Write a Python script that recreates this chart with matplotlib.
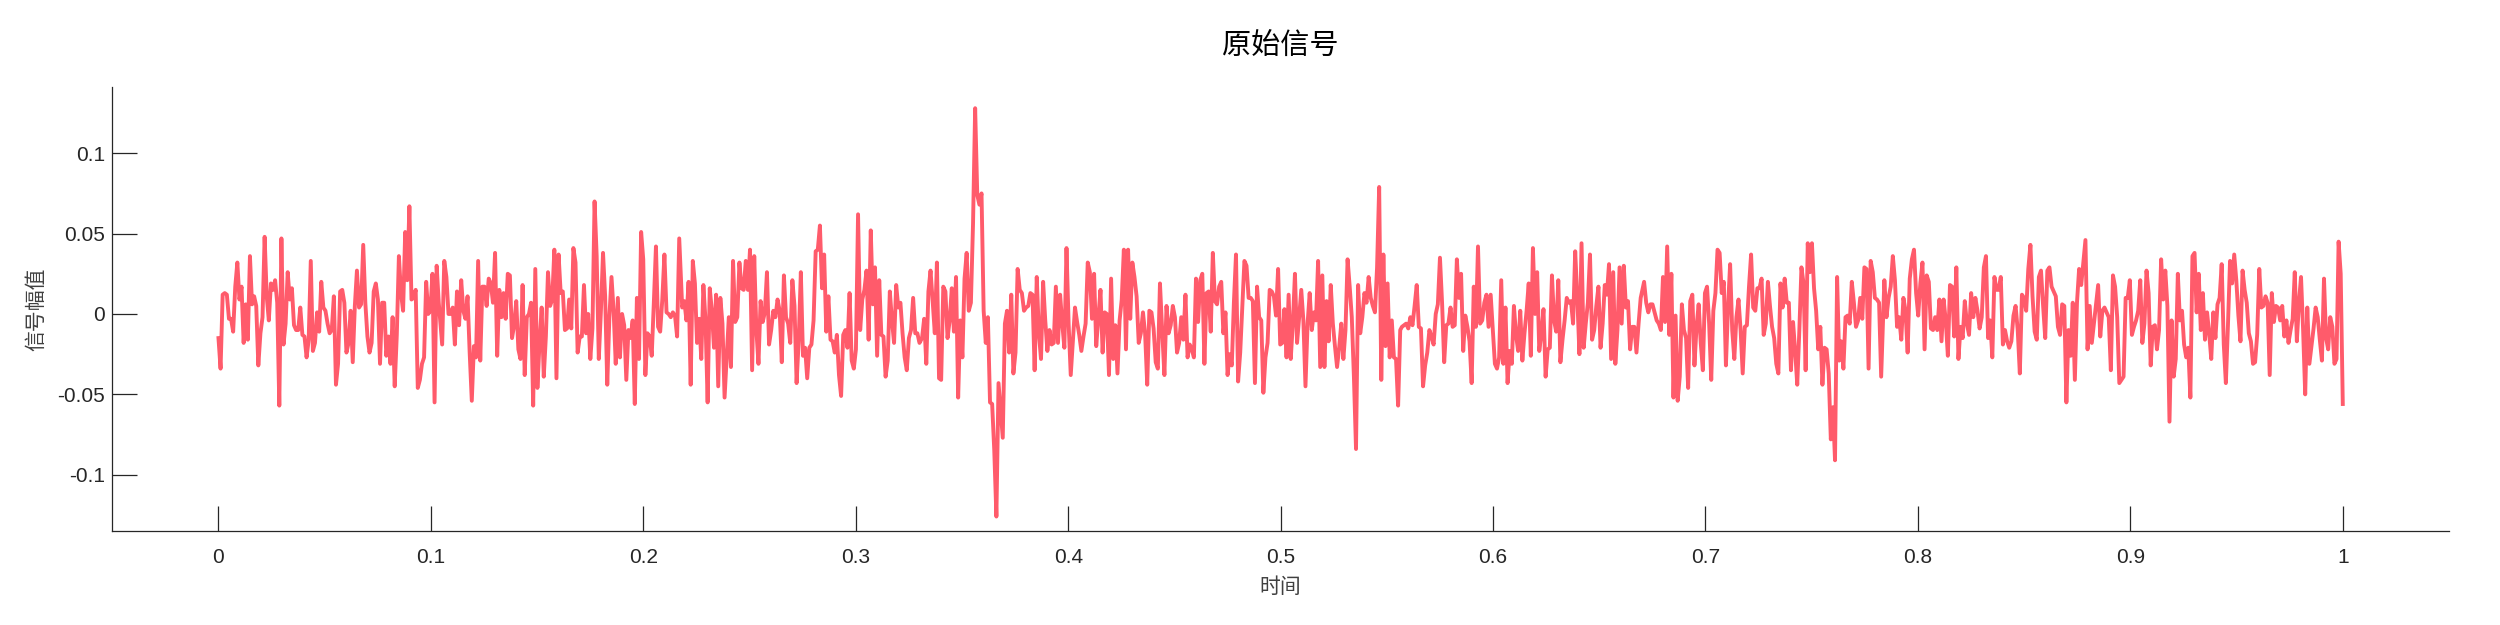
import numpy as np
import matplotlib
matplotlib.use('Agg')
import matplotlib.pyplot as plt

plt.rcParams['font.family'] = ['Liberation Sans', 'Noto Sans CJK SC', 'DejaVu Sans']
plt.rcParams['axes.unicode_minus'] = False

# signal amplitude, in units of 1e-3, split in 9 stretches
seg1 = [-15, -34, 12, 13, 12, -3, -3, -11, 17, 32, 9, 17, -18, 6, -16, 36, 6, 11, 5, -32,
        -12, -2, 48, 11, -4, 19, 15, 21, 7, -57, 47, -19, -6, 26, 9, 16, -7, -10, -10, 4,
        -13, -14, -27, -16, 33, -23, -18, 1, -11, 20, 4, 2, -6, -12, -10, 11, -44, -31, 14, 15,
        7, -24, -18, 2, -30, 5, 27, 4, 6, 43, 7, -14, -24, -18, 14, 19, 9, -31, 7, 7,
        -26, -14, -31, -2, -45, -13, 36, 13, 2, 51, 21, 67, 9, 10, 15, -46, -41, -31, -27, 20,
        0, 2, 25, -55, 30, 7]
seg2 = [-19, 33, 23, 0, 0, 4, -19, 14, -7, 21, 2, -3, 11, -24, -54, -20, -27, 33, -29, 17,
        17, 5, 22, 19, 7, 38, -26, 15, -2, 13, -3, 25, 24, -15, -7, 8, -22, -28, 18, -38,
        -2, 0, 7, -57, 28, -46, -18, 4, -39, -14, 26, 5, 9, 40, -40, 37, 13, 14, -10, -9,
        9, -9, 41, 32, -24, -14, -14, 18, -12, 0, -28, -9, 70, 36, -28, 2, 38, 11, -44, -2,
        23, 2, -31, 10, -27, 0, -7, -41, -10, -15, -4, -56, 10, -28, 51, 34, -38, -12, -14, -26,
        7, 42, -8, -11, 9, 37, 1, 0, -2, 1, -1, -14, 47]
seg3 = [4, 8, -4, 20, -44, 33, 19, -18, -3, -28, 18, -4, -55, 16, 2, -21, 12, -45, 10, -6,
        -52, -27, -2, -33, 33, -5, -2, 32, 16, 15, 33, 15, 40, -35, 36, -10, -31, 8, -5, 1,
        26, -19, -10, 2, -2, 9, 2, -30, 24, -2, -6, -18, 21, 5, -43, -16, 26, -26, -21, -40,
        -21, -19, -4, 39, 40, 55, 16, 37, -11, 11, -16, -17, -24, -13, -38, -51, -13, -10, -21, 13,
        -29, -34, -22, 62, -10, 9, 15, 27, -16, 52, 6, 29, -26, 21, -13, -14, -39, -29, 14, -4,
        -18, 18, 4, 7, -12, -27, -35, -15, -10, 10, -12, -12, -18]
seg4 = [-15, -3, -31, 14, 27, 8, -12, 32, -40, -41, 17, 14, -15, -4, 16, -11, 23, -52, -4, -27,
        22, 38, 2, 7, 56, 128, 74, 68, 75, 2, -18, -2, -55, -56, -85, -126, -43, -60, -77, -6,
        2, -24, 12, -37, -24, 28, 15, 13, 2, 4, 5, 13, 12, -35, 23, -12, -28, 20, -4, -23,
        -10, -19, -18, 17, -18, 12, -6, -21, 41, -6, -38, -17, 4, -5, -13, -23, -14, -6, 32, 26,
        -3, 25, -20, -2, 15, -24, 1, 0, -38, 22, -28, -7, -37, -4, 9, 40, -22, 40, -3, 32,
        23, 11, -18, -12, 1, -12, -44, 2, 1, -9, -30, -34, 19]
seg5 = [-12, -38, 5, -12, -7, 5, -2, -24, -18, -2, -16, 12, -27, -19, -22, -27, 22, -5, 21, 25,
        -31, 13, 14, -11, 38, 8, 6, 17, 20, -12, 1, -38, -25, -32, 7, 37, -42, -24, 5, 33,
        30, 10, 10, 8, -43, 17, -2, -4, -49, -27, -18, 15, 14, 11, -1, 28, -19, -18, 3, -27,
        12, -28, -6, 25, -18, -2, 15, -4, -45, -6, 13, -10, 1, -4, 33, -33, 24, -33, 8, -17,
        18, -6, -20, -33, -21, -6, -28, -10, 34, 17, -2, -39, -84, 18, -12, -2, 13, 7, 23, 10,
        5, 1, 29, 79, -41, 37, -20, 19, -27, -4, -27, -28, -57, -10]
seg6 = [-8, -7, -6, -9, -2, -7, 5, 18, -8, -9, -45, -32, -24, -10, -14, -19, 0, 6, 35, 7,
        -30, -7, -6, 4, -8, -7, 34, 10, 25, -23, -1, -8, -17, -43, 17, -8, 42, -6, -4, 7,
        12, -8, 12, -10, -31, -34, -27, 21, -31, 4, -43, -23, -31, 5, -13, -23, 2, -29, -12, 2,
        19, -26, 41, 0, 26, -23, -12, 3, -39, -22, -21, 24, -4, -11, 21, -30, -16, -4, 10, 7,
        8, -6, 39, 10, -25, 44, -21, -6, 7, 37, -16, -10, 5, 17, -21, -6, 18, 12, 31, -28,
        26, -31, -10, 29, -6, 30, 4, 8, -22, -8, -8, -24, -6, 10]
seg7 = [20, 7, 1, 6, 6, 1, -4, -6, -10, 23, -5, 42, -13, 25, -52, -1, -54, -39, 6, -10,
        -15, -46, 8, 12, -32, -8, 6, -18, -35, 13, 17, -6, -41, 2, 13, 40, 38, 13, 20, -32,
        4, 31, -10, -28, -2, 9, -10, -37, -8, -7, 17, 37, 4, 2, 16, 16, 22, -13, -6, 20,
        5, -8, -15, -31, -37, 19, 4, 22, 7, 7, -35, -5, -23, -44, -10, 29, 19, -35, 44, 26,
        44, 16, 2, -22, -8, -44, -21, -22, -37, -78, -58, -91, 23, -29, -17, -34, -2, -1, -6, 20,
        7, -8, -4, 10, -3, 29, 28, -34, 33, 26, 10, 9, 7, -39]
seg8 = [21, -2, 10, 17, 36, 21, -8, -2, -16, 10, 2, -24, 22, 34, 40, 13, -1, 19, 32, -22,
        24, 20, -9, -10, -2, -10, 9, -17, 9, -4, -26, 18, 17, -14, 29, -28, -8, -15, 8, -6,
        -13, 13, -2, 10, 2, -9, -2, 29, 36, -15, -4, -27, 23, 15, 15, 23, -19, -10, -17, -21,
        -17, -1, 5, -10, -37, 12, 10, 2, 28, 43, 11, -11, -16, 23, 27, 5, -15, 27, 29, 17,
        14, 11, -8, -13, 6, 5, -55, -10, -26, 7, -41, 7, 28, 18, 32, 46, -22, 5, -18, -6,
        6, 18, -14, 2, 4, 1, -2, -35, 24, 17, -2, -43, -41]
seg9 = [-39, 10, 10, 21, -13, -8, -4, 2, 21, -18, -6, 27, 13, -32, -8, -7, -22, -10, 34, 9,
        27, 5, -67, -4, -39, -28, 25, -4, 2, -19, -27, -21, -52, 36, 38, 1, 25, -10, 13, -16,
        1, -12, -28, 1, -15, 6, 10, 31, -19, -43, -7, 33, 19, 37, 21, -1, -17, 27, 15, 7,
        -12, -17, -31, -30, -13, 28, 4, 5, 11, 7, -38, 13, -5, 5, 4, -4, 5, -14, -4, -18,
        -10, -3, 26, -17, 7, 23, -10, -50, 4, -31, -20, -9, 4, -2, -16, -29, 22, -15, -22, -2,
        -8, -31, -28, 45, 25, -56]
segments = [seg1, seg2, seg3, seg4, seg5, seg6, seg7, seg8, seg9]
# time span of each stretch
seg_t0 = [0.0, 0.1053, 0.2183, 0.3312, 0.4443, 0.5571, 0.6711, 0.7842, 0.8968]
seg_t1 = [0.1037, 0.2169, 0.3300, 0.4432, 0.5563, 0.6695, 0.7827, 0.8958, 1.0]

t = np.concatenate([np.linspace(a, b, len(s)) for a, b, s in zip(seg_t0, seg_t1, segments)])
amp = np.concatenate([np.array(s, dtype=float) for s in segments]) / 1000.0

xticks = [0, 0.1, 0.2, 0.3, 0.4, 0.5, 0.6, 0.7, 0.8, 0.9, 1]
xticklabels = ['0', '0.1', '0.2', '0.3', '0.4', '0.5', '0.6', '0.7', '0.8', '0.9', '1']
yticks = [-0.1, -0.05, 0, 0.05, 0.1]
yticklabels = ['-0.1', '-0.05', '0', '0.05', '0.1']

AX = '#262626'
fig = plt.figure(figsize=(25, 6.25), dpi=100)
ax = fig.add_axes([0.0449, 0.1504, 0.9347, 0.7099])
ax.plot(t, amp, color='#ff5b6b', lw=2.8)

ax.set_xlim(-0.05, 1.05)
ax.set_ylim(-0.135, 0.141)
ax.set_xticks(xticks)
ax.set_xticklabels(xticklabels)
ax.set_yticks(yticks)
ax.set_yticklabels(yticklabels)
ax.tick_params(direction='in', length=18, width=0.9, color=AX, labelcolor=AX, labelsize=15)
ax.tick_params(axis='x', pad=12)
ax.tick_params(axis='y', pad=5)
for side in ['top', 'right']:
    ax.spines[side].set_visible(False)
for side in ['left', 'bottom']:
    ax.spines[side].set_color(AX)
    ax.spines[side].set_linewidth(0.9)

ax.set_title('原始信号', fontsize=21, family=['Noto Sans CJK SC'], pad=24, color='black')
ax.set_xlabel('时间', fontsize=15, family=['Noto Sans CJK SC'], color='#404040')
ax.set_ylabel('信号幅值', fontsize=15, family=['Noto Sans CJK SC'], color='#404040')
ax.xaxis.set_label_coords(0.5, -0.102)
ax.yaxis.set_label_coords(-0.028, 0.5)

fig.savefig('out.png', dpi=100)
plt.close(fig)
